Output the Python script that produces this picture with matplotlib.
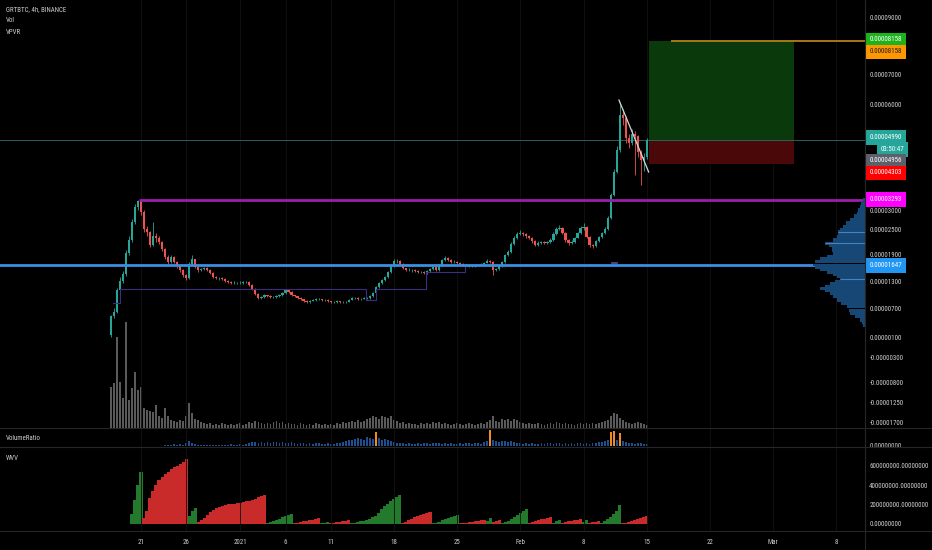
import matplotlib
matplotlib.use('Agg')
import matplotlib.pyplot as plt
import matplotlib.dates as mdates
import matplotlib.transforms as mtransforms
import matplotlib.font_manager as fm
from matplotlib.lines import Line2D
from matplotlib.patches import Rectangle
from matplotlib.ticker import FixedLocator, NullLocator
import numpy as np
import os
from datetime import datetime

# ---------------- data (prices in satoshi = 1e-8 BTC), 8h candles ----------------
FIRST_CANDLE = datetime(2020, 12, 17, 16)
OPEN_FIRST = 141
CLOSE = [535, 618, 1100, 1300, 1455, 1925, 2243, 2692, 3085, 3255,
         2948, 2513, 2439, 2120, 2341, 2292, 2194, 2022, 1833, 1722,
         1833, 1722, 1633, 1544, 1433, 1367, 1677, 1788, 1611, 1544,
         1566, 1589, 1544, 1478, 1389, 1367, 1367, 1344, 1300, 1277,
         1255, 1255, 1255, 1255, 1277, 1277, 1211, 1122, 1011, 922,
         944, 989, 966, 944, 944, 966, 989, 1033, 1100, 1055,
         989, 966, 922, 900, 855, 833, 855, 878, 900, 900,
         878, 878, 855, 833, 833, 855, 833, 833, 833, 878,
         922, 922, 900, 900, 922, 922, 966, 1033, 1166, 1255,
         1322, 1389, 1500, 1633, 1744, 1744, 1677, 1589, 1544, 1544,
         1544, 1522, 1500, 1500, 1478, 1522, 1566, 1611, 1544, 1655,
         1766, 1811, 1766, 1722, 1722, 1700, 1677, 1655, 1655, 1633,
         1633, 1655, 1655, 1677, 1700, 1744, 1722, 1544, 1566, 1633,
         1722, 1877, 1949, 2145, 2292, 2390, 2415, 2390, 2341, 2292,
         2218, 2120, 2170, 2194, 2170, 2194, 2243, 2390, 2513, 2538,
         2415, 2243, 2170, 2194, 2292, 2415, 2538, 2564, 2316, 2120,
         2096, 2218, 2316, 2415, 2513, 2794, 3425, 4075, 4698, 5689,
         5604, 5038, 4896, 5151, 5094, 4641, 4415, 4500, 4990]
HIGH = [560, 700, 1150, 1380, 1520, 1990, 2330, 2760, 3180, 3293,
        3290, 3000, 2600, 2470, 2692, 2420, 2340, 2230, 2050, 1870,
        1880, 1850, 1750, 1660, 1570, 1460, 1720, 1877, 1800, 1640,
        1600, 1620, 1610, 1560, 1490, 1420, 1400, 1390, 1360, 1330,
        1300, 1290, 1280, 1290, 1310, 1300, 1290, 1230, 1140, 1030,
        970, 1010, 1000, 980, 975, 990, 1010, 1060, 1130, 1115,
        1070, 1000, 975, 935, 910, 870, 875, 895, 920, 925,
        910, 900, 890, 865, 850, 870, 865, 850, 855, 890,
        940, 945, 935, 920, 940, 945, 985, 1055, 1190, 1280,
        1350, 1420, 1530, 1670, 1800, 1790, 1760, 1690, 1600, 1580,
        1575, 1560, 1540, 1530, 1520, 1550, 1590, 1640, 1625, 1680,
        1800, 1850, 1830, 1780, 1760, 1740, 1715, 1690, 1685, 1670,
        1660, 1680, 1685, 1700, 1725, 1790, 1760, 1740, 1600, 1660,
        1750, 1910, 1990, 2190, 2340, 2450, 2480, 2450, 2410, 2360,
        2310, 2240, 2210, 2230, 2220, 2230, 2280, 2430, 2560, 2620,
        2560, 2430, 2260, 2240, 2320, 2450, 2600, 2660, 2580, 2330,
        2150, 2250, 2350, 2450, 2560, 2850, 3480, 4150, 4800, 6060,
        5850, 5650, 5150, 5300, 5250, 5120, 4700, 4600, 5050]
LOW = [100, 500, 600, 1050, 1250, 1420, 1880, 2200, 2650, 3000,
       2880, 2450, 2350, 2060, 2090, 2200, 2150, 1980, 1790, 1680,
       1700, 1690, 1600, 1510, 1400, 1320, 1350, 1650, 1580, 1510,
       1520, 1540, 1520, 1450, 1360, 1340, 1330, 1320, 1280, 1250,
       1230, 1230, 1225, 1230, 1240, 1250, 1190, 1100, 990, 900,
       905, 930, 945, 925, 920, 930, 950, 975, 1020, 1030,
       970, 945, 900, 880, 835, 815, 820, 845, 865, 880,
       860, 860, 840, 815, 815, 820, 815, 812, 815, 825,
       870, 900, 885, 880, 890, 900, 910, 955, 1020, 1150,
       1230, 1300, 1370, 1480, 1610, 1700, 1650, 1560, 1520, 1515,
       1510, 1500, 1475, 1470, 1450, 1460, 1505, 1550, 1520, 1530,
       1640, 1750, 1740, 1700, 1695, 1680, 1650, 1630, 1630, 1610,
       1610, 1615, 1630, 1640, 1660, 1690, 1700, 1433, 1520, 1550,
       1620, 1710, 1860, 1930, 2120, 2270, 2360, 2350, 2300, 2260,
       2180, 2090, 2100, 2150, 2140, 2150, 2170, 2230, 2370, 2480,
       2380, 2200, 2130, 2150, 2180, 2280, 2400, 2500, 2280, 2080,
       2050, 2080, 2200, 2300, 2400, 2500, 2780, 3400, 4050, 4650,
       5400, 4900, 4750, 4850, 3990, 4500, 3700, 4100, 4450]
VOLUME = [41, 45, 91, 46, 30, 106, 28, 40, 56, 38,
          41, 20, 18, 17, 16, 23, 12, 10, 20, 12,
          8, 7, 6, 8, 7, 12, 25, 15, 9, 8,
          6, 5, 4, 5, 3, 4, 3, 5, 4, 3,
          4, 3, 4, 5, 3, 4, 6, 5, 7, 6,
          5, 4, 5, 4, 6, 7, 5, 6, 4, 5,
          4, 4, 3, 5, 4, 3, 4, 3, 5, 4,
          3, 4, 3, 4, 3, 5, 4, 6, 5, 6,
          7, 6, 8, 6, 7, 9, 10, 12, 11, 9,
          12, 11, 10, 12, 8, 7, 5, 6, 4, 5,
          4, 4, 3, 5, 4, 5, 4, 6, 5, 6,
          4, 5, 4, 3, 4, 5, 4, 3, 4, 5,
          4, 3, 4, 5, 4, 6, 8, 12, 7, 6,
          9, 8, 9, 7, 9, 8, 6, 5, 4, 5,
          4, 4, 5, 4, 3, 4, 5, 4, 6, 5,
          4, 5, 4, 4, 3, 4, 5, 4, 5, 4,
          5, 4, 5, 6, 7, 8, 12, 15, 14, 10,
          8, 6, 5, 4, 5, 6, 5, 4, 3]
VOL_RATIO = [np.nan] * 18 + [
    1, 1, 1, 2, 1, 2, 1, 3, 5, 3, 2, 1, 1,
    1, 1, 1, 1, 1, 1, 1, 1, 1, 2, 1, 1, 2, 1, 2, 3, 4, 4, 3, 4,
    3, 4, 3, 4, 4, 3, 4, 3, 3, 4, 3, 2, 3, 3, 2, 3, 2, 3, 3, 2,
    2, 3, 2, 2, 3, 3, 4, 5, 6, 6, 7, 8, 7, 6, 9, 8, 7, 14, 8, 6,
    7, 6, 5, 4, 3, 3, 3, 2, 3, 2, 2, 3, 2, 3, 3, 2, 3, 3, 3, 2,
    3, 2, 3, 2, 2, 3, 2, 3, 3, 2, 3, 3, 2, 4, 5, 16, 6, 5, 4, 5,
    5, 4, 5, 4, 3, 3, 2, 3, 2, 3, 2, 2, 3, 2, 3, 3, 2, 3, 3, 2,
    3, 2, 3, 2, 3, 3, 2, 3, 2, 3, 3, 4, 4, 5, 6, 14, 15, 6, 13, 5,
    4, 3, 3, 2, 3, 3, 2, 2]
RATIO_ALERT = 10
# weis wave volume, units of 1e7
WVV = [0, 0, 0, 0, 0, 0, 0,
       10, 25, 40, 53,
       6, 13, 27, 34, 40, 45, 48, 51, 53, 56, 58, 60, 62, 64, 67,
       8, 13, 16,
       2, 4, 6, 9, 12, 14, 16, 17, 18, 19, 20, 20.5, 21, 21.5, 22, 23, 23.5, 24, 24.5, 26, 28, 29, 30,
       1, 2, 3, 4, 5.5, 7, 8.5, 9.5, 10.3,
       0.5, 1, 2, 3, 3.5, 4, 4.5, 5, 5.7,
       1, 1.5, 2,
       1, 1.5, 2, 2.5, 3, 3.5, 4.3,
       0.5, 1, 2, 3, 3.5, 4.5, 5.5, 7, 8, 11, 15, 18, 21, 24, 26, 28, 30,
       1, 2.5, 4, 5.5, 7, 8.5, 9.5, 10.5, 11, 12,
       0.5, 1.5, 2.5, 4, 5, 6, 7, 8, 9,
       0.5, 1, 1.5, 2, 2.5, 3, 3.5, 4, 4.3,
       3, 5.7,
       2, 3, 3.7,
       1, 2, 3.5, 5.5, 7, 9, 11, 13, 15.3,
       1, 2, 3, 4, 5, 5.5, 6.2, 7,
       1.5, 3, 4,
       1, 2, 3, 3.5, 4, 4.5, 5,
       2.5, 4,
       1, 2, 2.5, 3,
       1, 3, 5, 7, 10, 13, 19,
       0.5, 1.5, 2.5, 3.5, 4.5, 5.5, 6.5, 7.5, 8.7]
WAVES = [(7, 10, 'up'), (11, 25, 'dn'), (26, 28, 'up'), (29, 51, 'dn'), (52, 60, 'up'),
         (61, 69, 'dn'), (70, 72, 'up'), (73, 79, 'dn'), (80, 96, 'up'), (97, 106, 'dn'),
         (107, 115, 'up'), (116, 124, 'dn'), (125, 126, 'up'), (127, 129, 'dn'),
         (130, 138, 'up'), (139, 146, 'dn'), (147, 149, 'up'), (150, 156, 'dn'),
         (157, 158, 'up'), (159, 162, 'dn'), (163, 169, 'up'), (170, 178, 'dn')]

# visible range volume profile
PROFILE_PRICE = [3283, 3198, 3093, 3000, 2922, 2846, 2743, 2666, 2572, 2513,
                 2446, 2390, 2324, 2243, 2162, 2108, 2040, 1974, 1917, 1855,
                 1804, 1728, 1655, 1600, 1544, 1489, 1433, 1389, 1338, 1300,
                 1248, 1188, 1137, 1077, 1026, 955, 878, 811, 729, 655,
                 591, 524, 452, 390, 328]
PROFILE_VOL = [2, 4, 5, 7, 8, 11, 15, 19, 22, 25,
               27, 27, 28, 32, 40, 36, 33, 33, 32, 38,
               45, 50, 52, 50, 45, 38, 32, 28, 25, 30,
               35, 40, 45, 40, 35, 32, 28, 24, 18, 16,
               15, 10, 5, 3, 2]
PROFILE_MARKED = [10, 14, 28]

# drawings
TP, ENTRY, SL = 8158, 4990, 4303
OTHER_PRICE = 4956
RESIST = 3293
POC = 1647
TRADE_START, TRADE_END = datetime(2021, 2, 15, 5), datetime(2021, 3, 3, 8)
TP_LINE_START = datetime(2021, 2, 17, 16)
RESIST_START = datetime(2020, 12, 20, 19)
TREND_DATES = [datetime(2021, 2, 11, 22), datetime(2021, 2, 15, 5)]
TREND_PRICES = [6132, 4075]
LEVEL_DATES = [datetime(2020, 12, 17, 22), datetime(2020, 12, 18, 16), datetime(2021, 1, 14, 21),
               datetime(2021, 1, 16, 0), datetime(2021, 1, 21, 12), datetime(2021, 1, 25, 22),
               datetime(2021, 1, 25, 22)]
LEVEL_PRICES = [811, 1122, 878, 1122, 1500, 1618, 1618]
BOX_DATES = [datetime(2021, 2, 11, 1), datetime(2021, 2, 11, 18)]
BOX_PRICES = [1700, 1722]
COUNTDOWN = '03:50:47'

TICK_DATES = [datetime(2020, 12, 21), datetime(2020, 12, 26), datetime(2021, 1, 1),
              datetime(2021, 1, 6), datetime(2021, 1, 11), datetime(2021, 1, 18),
              datetime(2021, 1, 25), datetime(2021, 2, 1), datetime(2021, 2, 8),
              datetime(2021, 2, 15), datetime(2021, 2, 22), datetime(2021, 3, 1),
              datetime(2021, 3, 8)]
TICK_LABELS = ['21', '26', '2021', '6', '11', '18', '25', 'Feb', '8', '15', '22', 'Mar', '8']
X_RANGE = (datetime(2020, 12, 5, 9, 22), datetime(2021, 3, 11, 3, 50))
PRICE_TICKS = [9000, 7000, 6000, 3000, 2500, 1900, 1300, 700, 100, -300, -800, -1250, -1700]
WVV_TICKS = [0, 20, 40, 60]

# TradingView's price scale, measured at its labels: price -> pixel row of the 550px image
SCALE_PRICE = [-2500, -1700, -1250, -800, -300, 100, 700, 1300, 1900, 2500, 3000, 6000, 7000, 9000, 11000]
SCALE_ROW = [455, 422, 402, 382, 357, 337, 308, 281, 254, 229.5, 210, 104, 74, 17, -40]

# ---------------- style ----------------
BG = '#000000'
TXT = '#cfcfcf'
SEP = '#262626'
UP, DN = '#26a69a', '#ef5350'

# prefer a narrow sans face (by file), else Liberation Sans
pref = ['LiberationSansNarrow-Regular', 'RobotoCondensed-Regular', 'OpenSans_Condensed-Regular',
        'OpenSansCondensed-Regular', 'NotoSans-Condensed', 'DejaVuSansCondensed.']
font_file = None
for key in pref:
    for f in fm.fontManager.ttflist:
        if key in os.path.basename(f.fname):
            font_file = f.fname
            break
    if font_file:
        break
if font_file:
    FP = fm.FontProperties(fname=font_file)
else:
    FP = fm.FontProperties(family='Liberation Sans')

W, H = 932, 550
PANE_R = 865

fig = plt.figure(figsize=(W / 100, H / 100), dpi=100, facecolor=BG)

# font size chosen so a ten-character price label is as wide as in TradingView (~32 px)
_probe = fig.text(0, 0, '0.00009000', fontproperties=FP, fontsize=10)
_w = _probe.get_window_extent(fig.canvas.get_renderer()).width
_probe.remove()
FS = 10 * 32.0 / _w
FPS = FP.copy()
FPS.set_size(FS)


def rect(top, bottom):
    return [0, 1 - bottom / H, PANE_R / W, (bottom - top) / H]


def fwd(p):
    return -np.interp(p, SCALE_PRICE, SCALE_ROW)


def inv(v):
    return np.interp(-np.asarray(v), SCALE_ROW[::-1], SCALE_PRICE[::-1])


t = mdates.date2num(FIRST_CANDLE) + np.arange(len(CLOSE)) / 3.0
o = np.array([OPEN_FIRST] + CLOSE[:-1], float)
c = np.array(CLOSE, float)
hi = np.array(HIGH, float)
lo = np.array(LOW, float)
up = c >= o
ccol = np.where(up, UP, DN)
xlim = (mdates.date2num(X_RANGE[0]), mdates.date2num(X_RANGE[1]))

# volume (behind the price pane)
ax_vol = fig.add_axes(rect(0, 428), facecolor=BG)
ax_vol.bar(t, VOLUME, width=0.2, color='#5a5a5a', linewidth=0)
ax_vol.set_ylim(0, max(VOLUME) / 0.248)
ax_vol.set_xlim(*xlim)

ax = fig.add_axes(rect(0, 428), sharex=ax_vol, facecolor='none')
ax.set_yscale('function', functions=(fwd, inv))
ax.set_ylim(inv(-428), inv(0))

# trade boxes
t0, t1 = mdates.date2num(TRADE_START), mdates.date2num(TRADE_END)
ax.add_patch(Rectangle((t0, ENTRY), t1 - t0, TP - ENTRY, facecolor='#0a3a0c', edgecolor='none', zorder=1))
ax.add_patch(Rectangle((t0, SL), t1 - t0, ENTRY - SL, facecolor='#4a0808', edgecolor='none', zorder=1))
ax.axhline(ENTRY, color='#2c6e68', lw=0.6, zorder=1)
ax.hlines(TP, mdates.date2num(TP_LINE_START), xlim[1], color='#a8761a', lw=1.4, zorder=3)

# candles
ax.vlines(t, lo, hi, colors=ccol, lw=0.6, zorder=2)
body_lo = np.minimum(o, c)
body_h = np.maximum(np.abs(c - o), 6)
ax.bar(t, body_h, bottom=body_lo, width=0.24, color=ccol, linewidth=0, zorder=2)

# levels and drawings
ax.step(mdates.date2num(LEVEL_DATES), LEVEL_PRICES, where='post', color='#3d2c82', lw=0.8, zorder=2)
b0, b1 = mdates.date2num(BOX_DATES)
ax.add_patch(Rectangle((b0, BOX_PRICES[0]), b1 - b0, BOX_PRICES[1] - BOX_PRICES[0],
                       facecolor='none', edgecolor='#5b4f8f', lw=0.6, zorder=2))
ax.hlines(RESIST, mdates.date2num(RESIST_START), xlim[1], color='#9b1fa8', lw=2.0, zorder=3)
ax.axhline(POC, color='#3a8fe3', lw=2.0, zorder=3)
ax.plot(mdates.date2num(TREND_DATES), TREND_PRICES, color='#d8d8d8', lw=0.9, zorder=4)

# volume profile
ax_vp = fig.add_axes(rect(0, 428), sharey=ax, facecolor='none')
pp = np.array(PROFILE_PRICE, float)
ph = np.abs(np.gradient(pp))
pv = np.array(PROFILE_VOL, float)
ax_vp.barh(pp, pv, height=ph, left=0, color='#174774', linewidth=0)
for k in PROFILE_MARKED:
    ax_vp.hlines(pp[k], 0, pv[k], color='#3f83c8', lw=0.8)
ax_vp.set_xlim(max(PROFILE_VOL) / 0.06, 0)
ax_vp.axis('off')

# price axis
ax.yaxis.tick_right()
ax.set_yticks(PRICE_TICKS, [f'{v * 1e-8:.8f}' for v in PRICE_TICKS], fontproperties=FPS, color=TXT)
ax.yaxis.set_minor_locator(NullLocator())
ax.tick_params(axis='y', length=0, pad=3.4)
ax.tick_params(axis='x', length=0, labelbottom=False)
ax_vol.tick_params(axis='both', length=0, labelbottom=False, labelleft=False)
ax_vol.grid(axis='x', color='#111111', lw=0.6)

blend = mtransforms.blended_transform_factory(ax.transAxes, ax.transData)
LABELS = [
    (TP, '0.00008158', '#1db31d', 'white', 1, 0),
    (TP, '0.00008158', '#ff9800', '#1a1a1a', -11, 0),
    (ENTRY, '0.00004990', '#26a69a', 'white', 2, 0),
    (ENTRY, COUNTDOWN, '#26a69a', 'white', -10, 11),
    (OTHER_PRICE, '0.00004956', '#5d606b', 'white', -20, 0),
    (SL, '0.00004303', '#ff0000', 'white', -9, 0),
    (RESIST, '0.00003293', '#ff00ff', 'white', 0, 0),
    (POC, '0.00001647', '#2196f3', 'white', 0, 0),
]
for price, txt, bg, fg, dy, dx in LABELS:
    ax.annotate(txt, xy=(1.0, price), xycoords=blend, xytext=(5 + dx, dy), textcoords='offset pixels',
                ha='left', va='center', fontproperties=FPS, color=fg, annotation_clip=False, zorder=10,
                bbox=dict(boxstyle='square,pad=0.55', fc=bg, ec='none'))

# volume ratio pane
ax_vr = fig.add_axes(rect(428, 447), sharex=ax_vol, facecolor=BG)
vr = np.array(VOL_RATIO, float)
vr_col = np.where(vr > RATIO_ALERT, '#f08a24', '#1f4f91')
ax_vr.bar(t, vr, width=0.2, color=vr_col, linewidth=0)
ax_vr.set_ylim(-1, 18)
ax_vr.yaxis.tick_right()
ax_vr.set_yticks([0], [f'{0:.8f}'], fontproperties=FPS, color=TXT)
ax_vr.tick_params(axis='y', length=0, pad=3.4)
ax_vr.tick_params(axis='x', length=0, labelbottom=False)
ax_vr.grid(axis='x', color='#111111', lw=0.6)

# weis wave volume pane
ax_w = fig.add_axes(rect(447, 531), sharex=ax_vol, facecolor=BG)
wcol = ['none'] * len(WVV)
for a, b, d in WAVES:
    for i in range(a, b + 1):
        wcol[i] = '#237a2c' if d == 'up' else '#c92a2a'
ax_w.bar(t, WVV, width=0.345, color=wcol, linewidth=0)
ax_w.set_ylim(-7.2, 79)
ax_w.yaxis.tick_right()
ax_w.set_yticks(WVV_TICKS, [f'{v * 1e7:.8f}' for v in WVV_TICKS], fontproperties=FPS, color=TXT)
ax_w.tick_params(axis='y', length=0, pad=3.0)
ax_w.set_xticks(mdates.date2num(TICK_DATES), TICK_LABELS, fontproperties=FPS, color=TXT)
ax_w.tick_params(axis='x', length=0, pad=6)
ax_w.grid(axis='x', color='#111111', lw=0.6)
ax_w.set_xlim(*xlim)

for a in (ax_vol, ax, ax_vp, ax_vr, ax_w):
    for s in a.spines.values():
        s.set_visible(False)

# pane separators and price-axis border
for row in (428, 447, 531):
    fig.add_artist(Line2D([0, 1], [1 - row / H] * 2, color=SEP, lw=0.8))
fig.add_artist(Line2D([PANE_R / W] * 2, [0, 1], color=SEP, lw=0.8))

# legends
for row, txt in ((10, 'GRTBTC, 4h, BINANCE'), (21, 'Vol'), (32, 'VPVR'),
                 (439, 'VolumeRatio'), (458, 'WVV')):
    fig.text(6 / W, 1 - row / H, txt, color=TXT, fontproperties=FPS, va='center')

fig.savefig('out.png', dpi=100, facecolor=BG)
